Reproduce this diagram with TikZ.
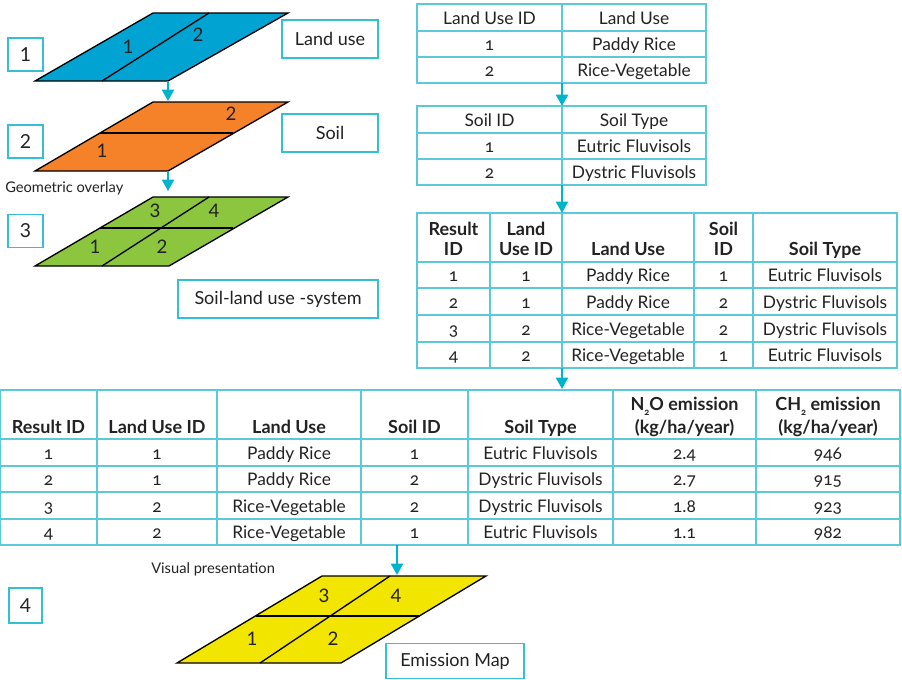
\documentclass[tikz,border=0pt]{standalone}
\usepackage{fontspec}
\setmainfont{Lato}
\newfontfamily\tabfont[Numbers=OldStyle]{Lato}
\usetikzlibrary{arrows.meta}
\definecolor{boxc}{HTML}{33C0D3}
\definecolor{tabc}{HTML}{5CC9DB}
\definecolor{arrc}{HTML}{00B4CB}
\definecolor{lblue}{HTML}{00A3D1}
\definecolor{lorange}{HTML}{F58229}
\definecolor{lgreen}{HTML}{8CC63F}
\definecolor{lyellow}{HTML}{F2E500}
\definecolor{txt}{HTML}{222222}
\begin{document}
\begin{tikzpicture}[x=0.75pt,y=-0.75pt,
  layer/.style={draw=black,line width=1pt,line join=miter},
  divider/.style={draw=black,line width=1pt},
  numbox/.style={draw=boxc,line width=1.2pt,minimum width=26pt,minimum height=25pt,inner sep=0pt,font=\fontsize{14.5}{16}\selectfont,text=txt},
  namebox/.style={draw=boxc,line width=1.2pt,minimum height=28.5pt,inner sep=0pt,font=\fontsize{13.5}{15}\selectfont,text=txt},
  laylbl/.style={font=\fontsize{14}{16}\selectfont,text=txt,inner sep=0pt},
  note/.style={font=\fontsize{11}{13}\selectfont,text=txt,inner sep=0pt},
  tab/.style={draw=tabc,line width=1.1pt},
  cell/.style={anchor=base,inner sep=0pt,font=\tabfont\fontsize{13}{15}\selectfont,text=txt},
  hcell/.style={anchor=base,inner sep=0pt,font=\tabfont\bfseries\fontsize{13.5}{15}\selectfont,text=txt},
  flow/.style={draw=arrc,line width=1.6pt,-{Triangle[width=9pt,length=8.5pt]}}
]
\useasboundingbox (0,0) rectangle (902,679);

% ---------- layer 1 : land use ----------
\filldraw[layer,fill=lblue] (35,81)--(153,13)--(288,13)--(168,81)--cycle;
\draw[divider] (209,13)--(102,81);
\node[laylbl] (l1a) at (128,47) {1};
\node[laylbl] (l1b) at (198,35) {2};
\node[numbox] (n1) at (25.5,54.5) {1};
\node[namebox,minimum width=72pt] (b1) at (330,39) {Land use};

% ---------- layer 2 : soil ----------
\filldraw[layer,fill=lorange] (35,171)--(153,102)--(288,102)--(168,171)--cycle;
\draw[divider] (100,133)--(233,133);
\node[laylbl] (l2a) at (102,151) {1};
\node[laylbl] (l2b) at (231,114) {2};
\node[numbox] (n2) at (25.5,141.5) {2};
\node[namebox,minimum width=72pt] (b2) at (330,133) {Soil};

\node[note,anchor=west] (geo) at (5,188) {Geometric overlay};

% ---------- layer 3 : overlay ----------
\filldraw[layer,fill=lgreen] (35,266)--(153,197)--(288,197)--(169,266)--cycle;
\draw[divider] (100,228)--(233,228);
\draw[divider] (209,197)--(102,266);
\node[laylbl] (l3c) at (155,211) {3};
\node[laylbl] (l3d) at (214,211) {4};
\node[laylbl] (l3a) at (95,247) {1};
\node[laylbl] (l3b) at (162,247) {2};
\node[numbox] (n3) at (25.5,231) {3};
\node[namebox,minimum width=150pt] (b3) at (278,299) {Soil-land use -system};

% ---------- layer 4 : emission map ----------
\filldraw[layer,fill=lyellow] (177,663)--(322,576)--(486,576)--(341,663)--cycle;
\draw[divider] (256,616)--(420,616);
\draw[divider] (390,576)--(260,663);
\node[laylbl] (l4c) at (324,596) {3};
\node[laylbl] (l4d) at (396,596) {4};
\node[laylbl] (l4a) at (252,639) {1};
\node[laylbl] (l4b) at (333,639) {2};
\node[numbox,minimum width=25pt,minimum height=26pt] (n4) at (25.5,605.5) {4};
\node[namebox,minimum width=103.5pt,minimum height=26pt] (b4) at (455,661) {Emission Map};
\node[note,anchor=west] (vis) at (151,569) {Visual presentation};

% ---------- table 1 ----------
\draw[tab] (417,4) rectangle (706,83);
\draw[tab] (562,4)--(562,83) (417,31)--(706,31) (417,57)--(706,57);
\node[cell] (t1h1) at (489.5,24) {Land Use ID};
\node[cell] (t1h2) at (634,24) {Land Use};
\node[cell] (t1a1) at (489.5,50.5) {1};
\node[cell] (t1a2) at (634,50.5) {Paddy Rice};
\node[cell] (t1b1) at (489.5,76.5) {2};
\node[cell] (t1b2) at (634,76.5) {Rice-Vegetable};

% ---------- table 2 ----------
\draw[tab] (417,106) rectangle (706,185);
\draw[tab] (562,106)--(562,185) (417,133)--(706,133) (417,159)--(706,159);
\node[cell] (t2h1) at (489.5,126) {Soil ID};
\node[cell] (t2h2) at (634,126) {Soil Type};
\node[cell] (t2a1) at (489.5,152.5) {1};
\node[cell] (t2a2) at (634,152.5) {Eutric Fluvisols};
\node[cell] (t2b1) at (489.5,178.5) {2};
\node[cell] (t2b2) at (634,178.5) {Dystric Fluvisols};

% ---------- table 3 ----------
\draw[tab] (417,213) rectangle (897,368);
\foreach \x in {490,562,694,753} \draw[tab] (\x,213)--(\x,368);
\foreach \y in {262,288,315,342} \draw[tab] (417,\y)--(897,\y);
\node[hcell] (t3h1a) at (453.5,235) {Result};
\node[hcell] (t3h1b) at (453.5,255) {ID};
\node[hcell] (t3h2a) at (526,235) {Land};
\node[hcell] (t3h2b) at (526,255) {Use ID};
\node[hcell] (t3h3) at (628,255) {Land Use};
\node[hcell] (t3h4a) at (723.5,235) {Soil};
\node[hcell] (t3h4b) at (723.5,255) {ID};
\node[hcell] (t3h5) at (825,255) {Soil Type};
\foreach \r/\y/\a/\b/\c/\d in {1/281.5/1/Paddy Rice/1/Eutric Fluvisols,
                               2/308/1/Paddy Rice/2/Dystric Fluvisols,
                               3/335/2/Rice-Vegetable/2/Dystric Fluvisols,
                               4/361.5/2/Rice-Vegetable/1/Eutric Fluvisols}{
  \node[cell] (t3r\r c1) at (453.5,\y) {\r};
  \node[cell] (t3r\r c2) at (526,\y) {\a};
  \node[cell] (t3r\r c3) at (628,\y) {\b};
  \node[cell] (t3r\r c4) at (723.5,\y) {\c};
  \node[cell] (t3r\r c5) at (825,\y) {\d};
}

% ---------- table 4 ----------
\draw[tab] (0.7,390) rectangle (900,545);
\foreach \x in {97,217,361,468,613,756} \draw[tab] (\x,390)--(\x,545);
\foreach \y in {439,466,492,519} \draw[tab] (0.7,\y)--(900,\y);
\node[hcell] (t4h1) at (48.5,433) {Result ID};
\node[hcell] (t4h2) at (157,433) {Land Use ID};
\node[hcell] (t4h3) at (289,433) {Land Use};
\node[hcell] (t4h4) at (414.5,433) {Soil ID};
\node[hcell] (t4h5) at (540.5,433) {Soil Type};
\node[hcell] (t4h6a) at (684.5,410) {N\raisebox{-0.55ex}{\fontsize{7}{8}\selectfont 2}O emission};
\node[hcell] (t4h6b) at (684.5,433) {(kg/ha/year)};
\node[hcell] (t4h7a) at (828,410) {CH\raisebox{-0.55ex}{\fontsize{7}{8}\selectfont 2} emission};
\node[hcell] (t4h7b) at (828,433) {(kg/ha/year)};
\foreach \r/\y/\a/\b/\c/\d/\e/\f in {1/459/1/Paddy Rice/1/Eutric Fluvisols/2.4/946,
                                     2/485.5/1/Paddy Rice/2/Dystric Fluvisols/2.7/915,
                                     3/512/2/Rice-Vegetable/2/Dystric Fluvisols/1.8/923,
                                     4/538.5/2/Rice-Vegetable/1/Eutric Fluvisols/1.1/982}{
  \node[cell] (t4r\r c1) at (48.5,\y) {\r};
  \node[cell] (t4r\r c2) at (157,\y) {\a};
  \node[cell] (t4r\r c3) at (289,\y) {\b};
  \node[cell] (t4r\r c4) at (414.5,\y) {\c};
  \node[cell] (t4r\r c5) at (540.5,\y) {\d};
  \node[cell] (t4r\r c6) at (684.5,\y) {\e};
  \node[cell] (t4r\r c7) at (828,\y) {\f};
}

% ---------- connectors ----------
\coordinate (a1s) at (168,81);  \coordinate (a1e) at (168,101);
\coordinate (a2s) at (168,171); \coordinate (a2e) at (168,191);
\coordinate (a3s) at (562,83);  \coordinate (a3e) at (562,106);
\coordinate (a4s) at (562,185); \coordinate (a4e) at (562,213);
\coordinate (a5s) at (562,368); \coordinate (a5e) at (562,389);
\coordinate (a6s) at (397,545); \coordinate (a6e) at (397,575);
\draw[flow] (a1s)--(a1e);
\draw[flow] (a2s)--(a2e);
\draw[flow] (a3s)--(a3e);
\draw[flow] (a4s)--(a4e);
\draw[flow] (a5s)--(a5e);
\draw[flow] (a6s)--(a6e);
\end{tikzpicture}
\end{document}
